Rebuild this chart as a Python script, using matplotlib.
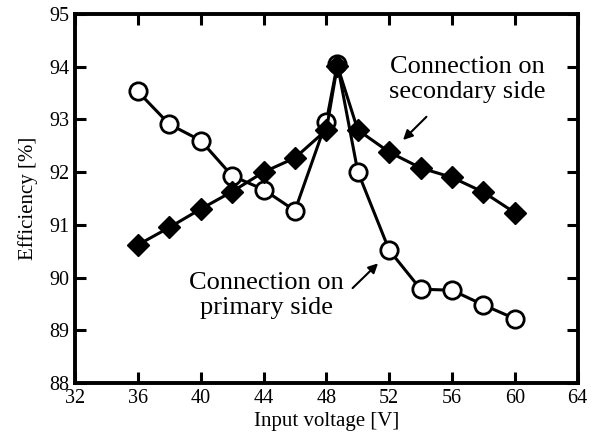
import matplotlib
matplotlib.use("Agg")
import matplotlib.pyplot as plt

plt.rcParams['font.family'] = ['Liberation Serif', 'DejaVu Serif']

# input voltage [V]
v_in = [36, 38, 40, 42, 44, 46, 48, 48.7, 50, 52, 54, 56, 58, 60]

# efficiency [%], connection on primary side (open circles)
eff_primary = [93.53, 92.91, 92.60, 91.93, 91.67, 91.27, 92.96, 94.05,
               92.01, 90.52, 89.78, 89.76, 89.48, 89.22]

# efficiency [%], connection on secondary side (filled diamonds)
eff_secondary = [90.62, 90.95, 91.30, 91.63, 92.00, 92.27, 92.80, 94.02,
                 92.80, 92.38, 92.08, 91.90, 91.62, 91.23]

x_ticks = [32, 36, 40, 44, 48, 52, 56, 60, 64]
y_ticks = [88, 89, 90, 91, 92, 93, 94, 95]

fig = plt.figure(figsize=(5.95, 4.32), dpi=100)
ax = fig.add_axes([0.126, 0.1134, 0.845, 0.8542])

# circles first, diamonds on top
ax.plot(v_in, eff_primary, color='black', lw=2.2, marker='o', ms=12.5,
        mfc='white', mec='black', mew=2.0, zorder=3)
ax.plot(v_in, eff_secondary, color='black', lw=2.2, marker='D', ms=11,
        mfc='black', mec='black', mew=1.0, zorder=4)

ax.set_xlim(32, 64)
ax.set_ylim(88, 95)
ax.set_xticks(x_ticks)
ax.set_yticks(y_ticks)
ax.tick_params(direction='in', length=8, width=2.2, top=True, right=True,
               labelsize=14.5, pad=4)
for s in ax.spines.values():
    s.set_linewidth(2.8)

ax.set_xlabel("Input voltage [V]", fontsize=15, labelpad=3)
ax.set_ylabel("Efficiency [%]", fontsize=15, labelpad=8)

# annotations
ax.text(56.97, 93.76, "Connection on\nsecondary side", fontsize=19,
        ha='center', va='center', linespacing=1.2)
ax.annotate("", xy=(52.88, 92.61), xytext=(54.37, 93.05),
            arrowprops=dict(arrowstyle='-|>', color='black', lw=1.5,
                            mutation_scale=14, shrinkA=0, shrinkB=0))

ax.text(44.18, 89.66, "Connection on\nprimary side", fontsize=19,
        ha='center', va='center', linespacing=1.2)
ax.annotate("", xy=(51.29, 90.27), xytext=(49.67, 89.80),
            arrowprops=dict(arrowstyle='-|>', color='black', lw=1.5,
                            mutation_scale=14, shrinkA=0, shrinkB=0))

fig.savefig("out.png", dpi=100)
